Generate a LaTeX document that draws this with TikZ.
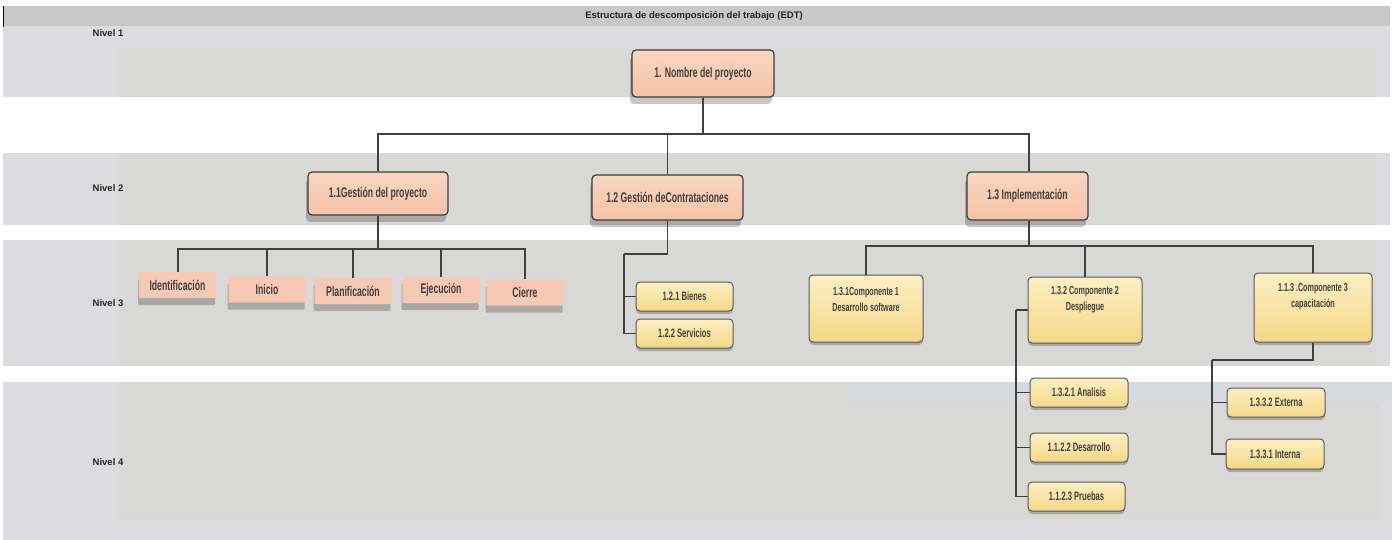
\documentclass[tikz,border=0pt]{standalone}
\usepackage{fontspec}
\setmainfont{Liberation Sans}
\newfontfamily\cond[FakeStretch=0.62]{Liberation Sans}
\usetikzlibrary{shadows}
\definecolor{hdr}{HTML}{C8C8C8}
\definecolor{bandc}{HTML}{DCDCDE}
\definecolor{innerc}{HTML}{D8D8D6}
\definecolor{bluec}{HTML}{D6DBE2}
\definecolor{salT}{HTML}{FAD6C1}
\definecolor{salB}{HTML}{F5C2A5}
\definecolor{salF}{HTML}{F7C9B3}
\definecolor{yelT}{HTML}{FCEFC2}
\definecolor{yelB}{HTML}{F4D886}
\definecolor{boxline}{HTML}{3C3C3C}
\definecolor{linec}{HTML}{404040}
\definecolor{nodetext}{HTML}{404040}
\begin{document}
\begin{tikzpicture}[x=1pt,y=-1pt,
  lvl/.style={font=\bfseries\fontsize{9.5}{11}\selectfont, text=black!85, inner sep=0pt},
  conn/.style={draw=linec, line width=1.2pt},
  thick conn/.style={draw=linec, line width=2pt},
  sbox/.style={draw=boxline, line width=1.2pt, rounded corners=4pt, top color=salT, bottom color=salB,
    drop shadow={shadow xshift=-2pt, shadow yshift=-7pt, opacity=.22, fill=black},
    font=\cond\bfseries\fontsize{14}{16}\selectfont, text=nodetext, inner sep=0pt},
  tbox/.style={fill=salF, rounded corners=1pt, minimum width=77pt, minimum height=26pt,
    drop shadow={shadow xshift=-1pt, shadow yshift=-7pt, opacity=.22, fill=black},
    font=\cond\bfseries\fontsize{14}{16}\selectfont, text=nodetext, inner sep=0pt},
  ybox/.style={draw=boxline!85, line width=1pt, rounded corners=4pt, top color=yelT, bottom color=yelB,
    drop shadow={shadow xshift=0pt, shadow yshift=-3pt, opacity=.22, fill=black},
    font=\cond\bfseries\fontsize{12.2}{14}\selectfont, text=nodetext, inner sep=0pt},
  ytext/.style={font=\cond\bfseries\fontsize{11.6}{16}\selectfont, text=nodetext, align=center, inner sep=0pt}
]
\useasboundingbox (0,0) rectangle (1397,540);
\fill[white] (0,0) rectangle (1397,540);
% bands
\fill[hdr] (3,6) rectangle (1390,26);
\fill[bandc] (3,26) rectangle (1390,97);
\fill[innerc] (119,48) rectangle (1376,97);
\fill[bandc] (3,153) rectangle (1390,225);
\fill[innerc] (119,153) rectangle (1376,225);
\fill[bandc] (3,240) rectangle (1390,366);
\fill[innerc] (119,240) rectangle (1376,366);
\fill[bandc] (3,382) rectangle (1392,540);
\fill[innerc] (119,382) rectangle (1380,519);
\fill[bluec] (848,382) rectangle (1392,402);
\draw[line width=1pt] (3,6) -- (3,27);
% labels
\node[lvl] (hd) at (694,16) {Estructura de descomposición del trabajo (EDT)};
\node[lvl] (lv1) at (108,33) {Nivel 1};
\node[lvl] (lv2) at (108,188) {Nivel 2};
\node[lvl] (lv3) at (108,303) {Nivel 3};
\node[lvl] (lv4) at (108,462) {Nivel 4};
% coordinates for connectors
\coordinate (k1) at (703,134);
\coordinate (k11) at (378,249);
\coordinate (k12) at (624,254);
\coordinate (k13) at (1029,246);
\coordinate (kc2) at (1016,310);
\coordinate (kc3a) at (1313,360);
\coordinate (kc3) at (1212,360);
% level 1-2 nodes
\node[sbox, minimum width=142pt, minimum height=47pt] (n1) at (703,73.5) {1. Nombre del proyecto};
\node[sbox, minimum width=140pt, minimum height=43pt] (n11) at (378,193.5) {1.1Gestión del proyecto};
\node[sbox, minimum width=151pt, minimum height=45pt] (n12) at (667.5,197.5) {1.2 Gestión deContrataciones};
\node[sbox, minimum width=121pt, minimum height=48pt] (n13) at (1027.5,196) {1.3 Implementación};
% level 3 under 1.1
\node[tbox] (t1) at (177.5,285) {Identificación};
\node[tbox] (t2) at (267,289.5) {Inicio};
\node[tbox] (t3) at (353,291) {Planificación};
\node[tbox] (t4) at (441,290) {Ejecución};
\node[tbox] (t5) at (525,292.5) {Cierre};
% level 3 under 1.2
\node[ybox, minimum width=97pt, minimum height=29pt] (b1) at (684.5,296.5) {1.2.1 Bienes};
\node[ybox, minimum width=97pt, minimum height=29pt] (b2) at (684.5,333.5) {1.2.2 Servicios};
% level 3 under 1.3
\node[ybox, minimum width=114pt, minimum height=67pt] (c1) at (866,308.5) {};
\node[ytext] (c1t) at (866,300) {1.3.1Componente 1\\Desarrollo software};
\node[ybox, minimum width=114pt, minimum height=66pt] (c2) at (1085,310) {};
\node[ytext] (c2t) at (1085,300) {1.3.2 Componente 2\\Despliegue};
\node[ybox, minimum width=118pt, minimum height=69pt] (c3) at (1313,307.5) {};
\node[ytext] (c3t) at (1313,296.5) {1.1.3 .Componente 3\\capacitación};
% level 4
\node[ybox, minimum width=98pt, minimum height=29pt] (d1) at (1079,392.5) {1.3.2.1 Analisis};
\node[ybox, minimum width=98pt, minimum height=29pt] (d2) at (1079,447.5) {1.1.2.2 Desarrollo};
\node[ybox, minimum width=97pt, minimum height=29pt] (d3) at (1076.5,496.5) {1.1.2.3 Pruebas};
\node[ybox, minimum width=98pt, minimum height=29pt] (e1) at (1276,402.5) {1.3.3.2 Externa};
\node[ybox, minimum width=98pt, minimum height=30pt] (e2) at (1275,454) {1.3.3.1 Interna};
% connectors, node to node
\begin{scope}[on background layer/.style={}]
\draw[conn] (n1.south) -- (k1);
\draw[conn] (k1) -| (n11.north);
\draw[conn] (k1) -| (n12.north);
\draw[conn] (k1) -| ([xshift=1.5pt]n13.north);
\draw[conn] (n11.south) -- (k11);
\draw[thick conn] (k11) -| (t1.north);
\draw[thick conn] (k11) -| (t5.north);
\draw[conn] (k11 -| t2.north) -- (t2.north);
\draw[conn] (k11 -| t3.north) -- (t3.north);
\draw[conn] (k11 -| t4.north) -- (t4.north);
\draw[conn] (n12.south) |- (k12);
\draw[conn] (k12) |- (b1.west);
\draw[conn] (k12) |- (b2.west);
\draw[conn] ([xshift=1.5pt]n13.south) -- (k13);
\draw[conn] (k13) -| (c1.north);
\draw[conn] (k13) -| (c2.north);
\draw[conn] (k13) -| (c3.north);
\draw[conn] (c2.west) -- (kc2);
\draw[conn] (kc2) |- (d1.west);
\draw[conn] (kc2) |- (d2.west);
\draw[conn] (kc2) |- (d3.west);
\draw[conn] (c3.south) -- (kc3a) -- (kc3);
\draw[conn] (kc3) |- (e1.west);
\draw[conn] (kc3) |- (e2.west);
\end{scope}
\end{tikzpicture}
\end{document}
